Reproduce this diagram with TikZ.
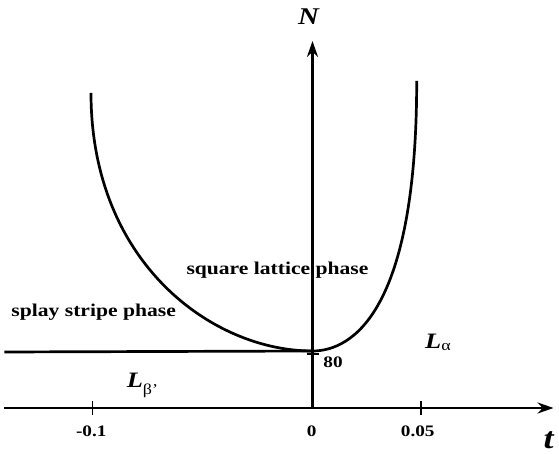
\documentclass[tikz,border=0pt]{standalone}
\usepackage{fontspec}
\setmainfont[FakeStretch=1.2]{Liberation Serif}
\usetikzlibrary{arrows.meta}

\begin{document}
\begin{tikzpicture}[x=1pt,y=1pt,
  axis/.style={line width=2.7pt,-{Stealth[length=16pt,width=11pt]}},
  border/.style={line width=2.7pt},
  tick/.style={line width=1.6pt},
  phase/.style={font=\bfseries\fontsize{18}{18}\selectfont,anchor=base},
  num/.style={font=\bfseries\fontsize{16}{16}\selectfont,anchor=base},
  var/.style={font=\bfseries\itshape\fontsize{#1}{#1}\selectfont,anchor=base}]

\useasboundingbox (-312.5,-46) rectangle (246.5,408);

% axes
\coordinate (o) at (0,0);
\coordinate (tmin) at (-308,0);
\coordinate (tmax) at (241,0);
\coordinate (nmax) at (0,367);
\coordinate (m1) at (-219.8,0);
\coordinate (p05) at (108.2,0);
\coordinate (n80) at (0,54);

% phase boundaries
\coordinate (bl) at (-308,56);
\coordinate (c) at (0,57);
\coordinate (ltop) at (-221.5,315);
\coordinate (rtop) at (104.2,327);

\draw[axis] (tmin) -- (tmax);
\draw[axis] (o) -- (nmax);

\draw[tick] ([yshift=-7pt]m1) -- ([yshift=7pt]m1);
\draw[tick] ([yshift=-7pt]p05) -- ([yshift=7pt]p05);
\draw[tick] ([xshift=-6pt]n80) -- ([xshift=6pt]n80);

\draw[border] (bl) -- (c);
\draw[border] (ltop) .. controls (-221.5,145) and (-100,57) .. (c)
  .. controls (40,57) and (104.2,97) .. (rtop);

% labels
\node[var=24] (N) at (-4,383) {N};
\node[var=30,inner sep=0pt] (t) at (236,-41) {t};
\node[num] (lm1) at (-221.2,-28.5) {-0.1};
\node[num] (l0) at (-0.8,-28.5) {0};
\node[num] (l05) at (105.2,-28.5) {0.05};
\node[num] (l80) at (20.5,40.3) {80};

\node[phase] (sq) at (-35,133) {square lattice phase};
\node[phase] (sp) at (-218.8,91.3) {splay stripe phase};

\node[var=22,anchor=base west] (La) at (109.2,59.7)
  {L\raisebox{-2.5pt}{\mdseries\upshape\fontsize{15}{15}\selectfont α}};
\node[var=22,anchor=base west] (Lb) at (-189.2,20.7)
  {L\raisebox{-7pt}{\mdseries\upshape\fontsize{15}{15}\selectfont β’}};

\end{tikzpicture}
\end{document}
